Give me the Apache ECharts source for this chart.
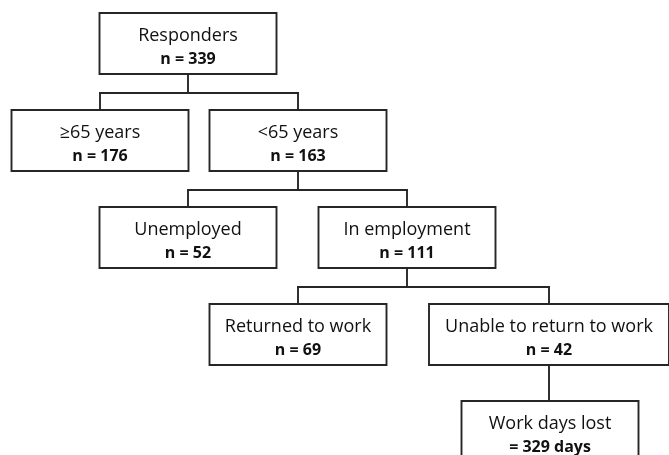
<!DOCTYPE html>
<html><head><meta charset="utf-8">
<script src="https://cdn.jsdelivr.net/npm/echarts@6/dist/echarts.min.js"></script>
<style>html,body{margin:0;padding:0;background:#fff}#c{width:669px;height:455px}</style>
</head><body><div id="c"></div>
<script>
// Data
var nodeNames = ['Responders', '\u226565 years', '<65 years', 'Unemployed', 'In employment', 'Returned to work', 'Unable to return to work', 'Work days lost'];
var nodeCounts = [339, 176, 163, 52, 111, 69, 42, 329];
var countPrefix = ['n = ', 'n = ', 'n = ', 'n = ', 'n = ', 'n = ', 'n = ', '= '];
var countSuffix = ['', '', '', '', '', '', '', ' days'];
var nodeParent = [-1, 0, 0, 2, 2, 4, 4, 6];

// Layout (kept separate from data)
var nodeCenterX = [188, 100, 298, 188, 407, 298, 549, 550];
var nodeLevel = [0, 1, 1, 2, 2, 3, 3, 4];
var nodeWidth = [177, 177, 177, 177, 177, 177, 240, 177];
var levelTop0 = 13, levelStep = 97, boxH = 61, elbow = 19;

var LINE = '#262626';
var LW = 1.9;
var FONT = '"Open Sans", sans-serif';

function topOf(i) { return levelTop0 + levelStep * nodeLevel[i]; }

var nodeData = nodeNames.map(function (n, i) {
  return [nodeCenterX[i], topOf(i), nodeWidth[i], boxH, i];
});

var parentsWithKids = [];
nodeParent.forEach(function (p) { if (p >= 0 && parentsWithKids.indexOf(p) < 0) parentsWithKids.push(p); });
var linkData = parentsWithKids.map(function (p) { return [nodeCenterX[p], topOf(p) + boxH, p]; });

var chart = echarts.init(document.getElementById('c'), null, { renderer: 'canvas' });
chart.setOption({
  animation: false,
  grid: { left: 0, right: 0, top: 0, bottom: 0 },
  xAxis: { type: 'value', min: 0, max: 669, show: false },
  yAxis: { type: 'value', min: 0, max: 455, inverse: true, show: false },
  series: [
    {
      type: 'custom',
      data: linkData,
      renderItem: function (params, api) {
        var p = api.value(2);
        var kids = [];
        nodeParent.forEach(function (q, i) { if (q === p) kids.push(i); });
        var start = api.coord([api.value(0), api.value(1)]);
        var children = [];
        var st = { stroke: LINE, lineWidth: LW };
        if (kids.length === 1) {
          var k = kids[0];
          var e = api.coord([nodeCenterX[k], topOf(k)]);
          children.push({ type: 'line', shape: { x1: start[0], y1: start[1], x2: start[0], y2: e[1] }, style: st });
        } else {
          var mid = api.coord([0, api.value(1) + elbow])[1];
          children.push({ type: 'line', shape: { x1: start[0], y1: start[1], x2: start[0], y2: mid }, style: st });
          var xs = kids.map(function (k) { return api.coord([nodeCenterX[k], 0])[0]; });
          children.push({ type: 'line', shape: { x1: Math.min.apply(null, xs) - LW / 2, y1: mid, x2: Math.max.apply(null, xs) + LW / 2, y2: mid }, style: st });
          kids.forEach(function (k, j) {
            var t = api.coord([0, topOf(k)])[1];
            children.push({ type: 'line', shape: { x1: xs[j], y1: mid, x2: xs[j], y2: t }, style: st });
          });
        }
        return { type: 'group', children: children };
      }
    },
    {
      type: 'custom',
      data: nodeData,
      renderItem: function (params, api) {
        var i = api.value(4);
        var cx = api.value(0), top = api.value(1), w = api.value(2), h = api.value(3);
        var tl = api.coord([cx - w / 2, top]);
        var sz = api.size([w, h]);
        var c = api.coord([cx, top]);
        return {
          type: 'group',
          children: [
            { type: 'rect', shape: { x: tl[0], y: tl[1], width: sz[0], height: sz[1] }, style: { fill: '#fff', stroke: LINE, lineWidth: LW } },
            { type: 'text', x: c[0], y: c[1] + 23, style: { text: nodeNames[i], font: '18px ' + FONT, fill: '#111', align: 'center', verticalAlign: 'middle' } },
            { type: 'text', x: c[0], y: c[1] + 46, style: { text: countPrefix[i] + nodeCounts[i] + countSuffix[i], font: 'bold 16px ' + FONT, fill: '#111', align: 'center', verticalAlign: 'middle' } }
          ]
        };
      }
    }
  ]
});
</script>
</body></html>
